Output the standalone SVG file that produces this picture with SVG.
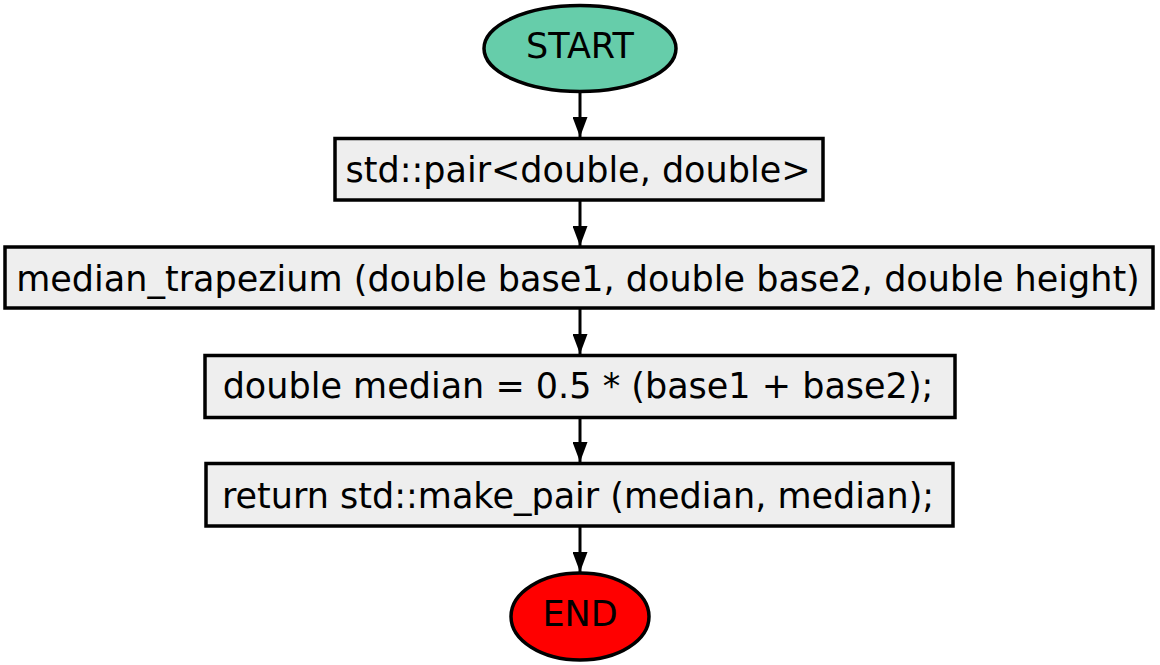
<svg xmlns="http://www.w3.org/2000/svg" width="1160" height="665" viewBox="0 0 1160 665">
<style>
text { font-family: "DejaVu Sans", Verdana, "Liberation Sans", sans-serif; font-size: 35px; fill: #000; text-anchor: middle; }
.box { fill: #EEEEEE; stroke: #000; stroke-width: 3.5; }
.start { fill: #66CDAA; stroke: #000; stroke-width: 3.5; }
.end { fill: #FF0000; stroke: #000; stroke-width: 3.5; }
.edge { stroke: #000; stroke-width: 3; fill: none; marker-end: url(#arrow); }
</style>
<defs>
<marker id="arrow" markerWidth="20" markerHeight="15" viewBox="0 0 20 15" refX="20" refY="7.5" markerUnits="userSpaceOnUse" orient="auto">
<path d="M0,0 L20,7.5 L0,15 Z" fill="#000"/>
</marker>
</defs>
<rect width="1160" height="665" fill="#FFFFFF"/>
<g id="connectors">
<line class="edge" x1="580" y1="92" x2="580" y2="137"/>
<line class="edge" x1="580" y1="200" x2="580" y2="246"/>
<line class="edge" x1="580" y1="308" x2="580" y2="354"/>
<line class="edge" x1="580" y1="417" x2="580" y2="462"/>
<line class="edge" x1="580" y1="526" x2="580" y2="572"/>
</g>
<g id="start">
<ellipse class="start" cx="580" cy="48.5" rx="96" ry="43"/>
<text x="580" y="58">START</text>
</g>
<g id="decl">
<rect class="box" x="335" y="138.5" width="488" height="61.5"/>
<text x="578" y="182">std::pair&lt;double, double&gt;</text>
</g>
<g id="func">
<rect class="box" x="5" y="247" width="1148" height="61"/>
<text x="578" y="291">median_trapezium (double base1, double base2, double height)</text>
</g>
<g id="median">
<rect class="box" x="205" y="355.5" width="750" height="62"/>
<text x="578" y="398">double median = 0.5 * (base1 + base2);</text>
</g>
<g id="ret">
<rect class="box" x="206" y="463.5" width="747" height="62.5"/>
<text x="578" y="508">return std::make_pair (median, median);</text>
</g>
<g id="end">
<ellipse class="end" cx="580" cy="616.5" rx="69" ry="43.5"/>
<text x="580" y="626">END</text>
</g>
</svg>
